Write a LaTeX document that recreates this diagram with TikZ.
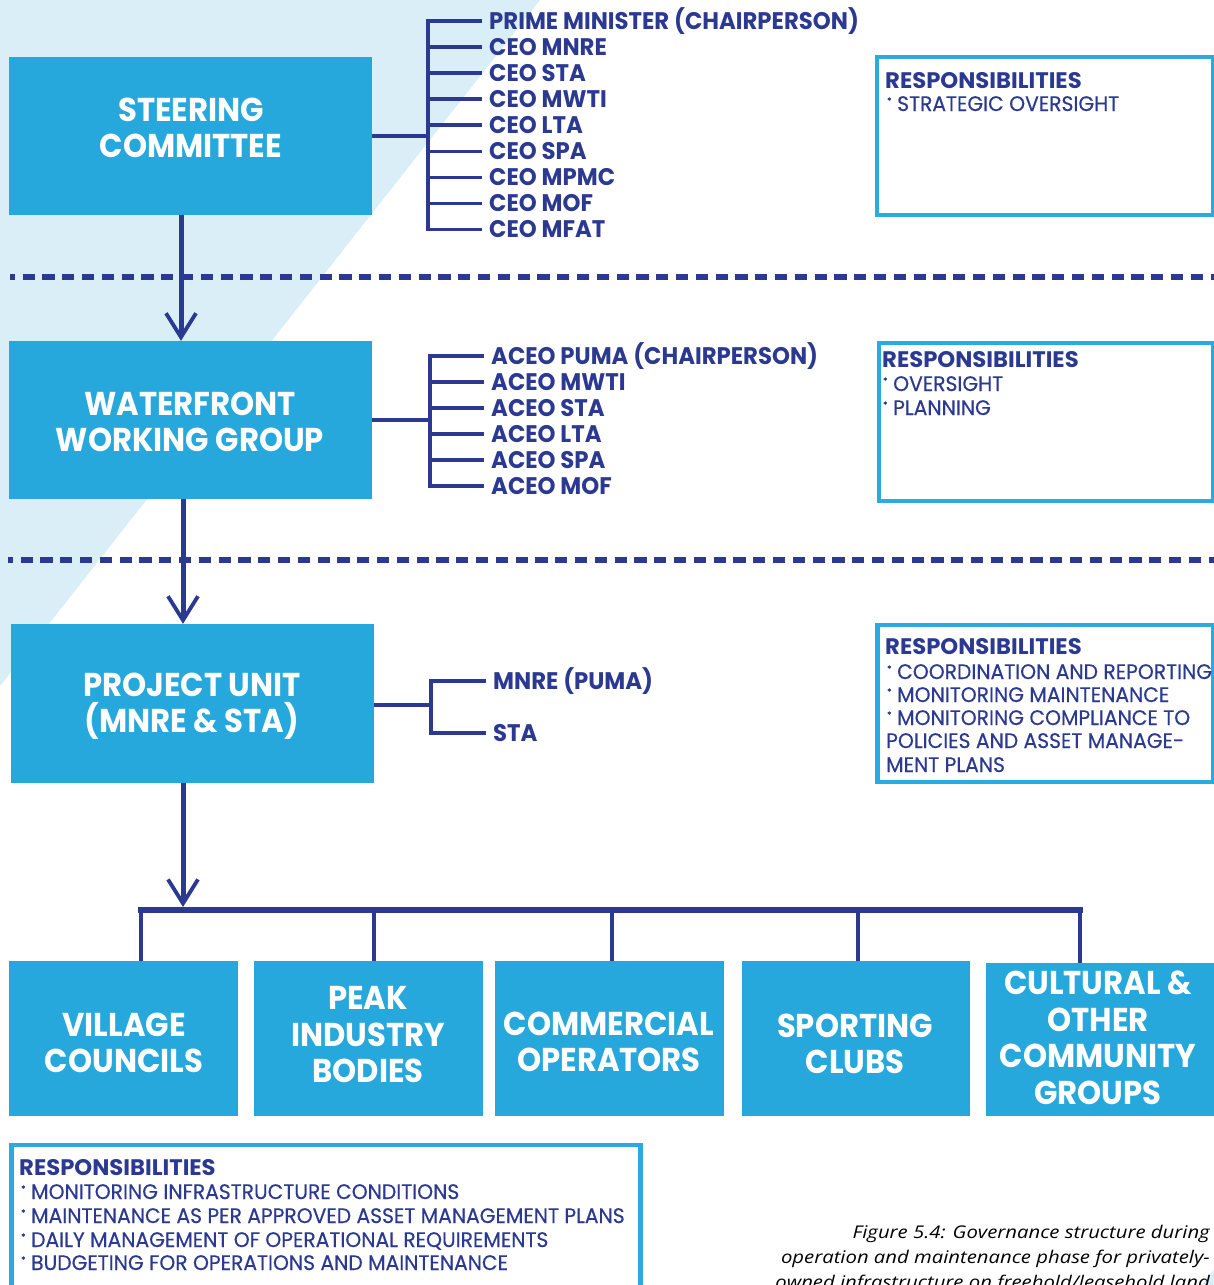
\documentclass[tikz,border=0pt]{standalone}
\usepackage{fontspec}
\usetikzlibrary{arrows.meta}
\newfontfamily\popB[FakeStretch=0.93]{Poppins}
\newfontfamily\popM[FakeStretch=0.95]{Poppins}
\newfontfamily\popH[FakeStretch=1.01]{Poppins}
\newfontfamily\popR[FakeStretch=0.965,FakeBold=0.4]{Poppins}
\newfontfamily\capfont[FakeStretch=1.16]{Open Sans}
\definecolor{cyanbox}{HTML}{27A8DC}
\definecolor{navy}{HTML}{2B3990}
\definecolor{lightbg}{HTML}{DAEEF7}
\definecolor{respborder}{HTML}{29AAE1}
\newcommand\bul{\makebox[10pt][l]{\raisebox{7pt}{\fontsize{9}{9}\selectfont *}}}
\begin{document}
\begin{tikzpicture}[x=1pt,y=-1pt,
  cbox/.style={fill=cyanbox, draw=none, inner sep=0pt},
  boxtext/.style={text=white, align=center, inner sep=0pt, font=\popB\bfseries\fontsize{33}{36.5}\selectfont},
  member/.style={text=navy, anchor=west, inner xsep=7pt, inner ysep=0pt, text height=17pt, text depth=0pt, font=\popM\bfseries\fontsize{24}{24}\selectfont},
  br/.style={draw=navy, line width=3.5pt},
  arr/.style={draw=navy, line width=5pt, -{Straight Barb[length=24pt,width=30pt,line width=3.8pt]}},
  dashline/.style={draw=navy, line width=6pt, dash pattern=on 12.3pt off 7.5pt, dash phase=7.3pt},
  respbox/.style={draw=respborder, line width=4.5pt},
  resphead/.style={anchor=base west, inner sep=0pt, text=navy, font=\popH\bfseries\fontsize{22.5}{22.5}\selectfont},
  respline/.style={anchor=base west, inner sep=0pt, text=navy, font=\popR\fontsize{21}{21}\selectfont},
  captext/.style={anchor=base east, inner sep=0pt, text=black, font=\capfont\itshape\fontsize{17.5}{17.5}\selectfont}
]
\useasboundingbox (0,0) rectangle (1214,1285);
\clip (0,0) rectangle (1214,1285);
% background
\fill[lightbg] (0,0) -- (540,0) -- (0,686) -- cycle;
\fill[lightbg] (1214,1270) -- (1214,1285) -- (1202,1285) -- cycle;
% dashed separators
\draw[dashline] (10,277) -- (1214,277);
\draw[dashline] (8,560) -- (1214,560);

% main boxes
\node[cbox, minimum width=363pt, minimum height=158pt] (steer) at (190.5,136) {};
\node[cbox, minimum width=363pt, minimum height=158pt] (wf) at (190.5,420) {};
\node[cbox, minimum width=363pt, minimum height=159pt] (pu) at (192.5,703.5) {};
\node[boxtext] (steerT) at (191,128) {STEERING\\COMMITTEE};
\node[boxtext] (wfT) at (190,422) {WATERFRONT\\WORKING GROUP};
\node[boxtext] (puT) at (192,706) {PROJECT UNIT\\(MNRE \& STA)};

% bottom boxes
\node[cbox, minimum width=229pt, minimum height=155pt] (v1) at (123.5,1038.5) {};
\node[cbox, minimum width=229pt, minimum height=155pt] (v2) at (368.5,1038.5) {};
\node[cbox, minimum width=229pt, minimum height=155pt] (v3) at (609.5,1038.5) {};
\node[cbox, minimum width=228pt, minimum height=155pt] (v4) at (856,1038.5) {};
\node[cbox, minimum width=228pt, minimum height=153pt] (v5) at (1100,1039.5) {};
\node[boxtext] (v1T) at (124,1043) {VILLAGE\\COUNCILS};
\node[boxtext] (v2T) at (368,1035) {PEAK\\INDUSTRY\\BODIES};
\node[boxtext] (v3T) at (609,1042) {COMMERCIAL\\OPERATORS};
\node[boxtext] (v4T) at (855,1044) {SPORTING\\CLUBS};
\node[boxtext] (v5T) at (1098,1038) {CULTURAL \&\\OTHER\\COMMUNITY\\GROUPS};

% steering members
\coordinate (sj) at (428,136);
\foreach \t [count=\i from 0] in {PRIME MINISTER (CHAIRPERSON),CEO MNRE,CEO STA,CEO MWTI,CEO LTA,CEO SPA,CEO MPMC,CEO MOF,CEO MFAT}{
  \node[member] (sc\i) at (482,{21+26.06*\i}) {\t};
}
\draw[br] (sc0.west) -| (sj) |- (sc8.west);
\foreach \i in {1,...,7}{ \draw[br] (sj |- sc\i.west) -- (sc\i.west); }
\draw[br] (steer.east) -- (sj);

% waterfront members
\coordinate (wj) at (430,420);
\foreach \t [count=\i from 0] in {ACEO PUMA (CHAIRPERSON),ACEO MWTI,ACEO STA,ACEO LTA,ACEO SPA,ACEO MOF}{
  \node[member] (wm\i) at (484,{356+26*\i}) {\t};
}
\draw[br] (wm0.west) -| (wj) |- (wm5.west);
\foreach \i in {1,...,4}{ \draw[br] (wj |- wm\i.west) -- (wm\i.west); }
\draw[br] (wf.east) -- (wj);

% project unit members
\coordinate (pj) at (431,705);
\node[member] (pm0) at (486,681) {MNRE (PUMA)};
\node[member] (pm1) at (486,733) {STA};
\draw[br] (pm0.west) -| (pj) |- (pm1.west);
\draw[br] (pu.east |- pj) -- (pj);

% arrows
\draw[arr] ([xshift=-9.5pt]steer.south) -- ([xshift=-9.5pt]wf.north);
\draw[arr] ([xshift=-7.5pt]wf.south) -- ([xshift=-9.5pt]pu.north);
\coordinate (bustip) at (183,907);
\draw[arr] ([xshift=-9.5pt]pu.south) -- (bustip);

% bus
\coordinate (c1) at (141,910);
\coordinate (c2) at (374,910);
\coordinate (c3) at (612,910);
\coordinate (c4) at (858,910);
\coordinate (c5) at (1080,910);
\draw[draw=navy, line width=6pt, line cap=rect] (c1) -- (c5);
\foreach \i in {1,...,5}{ \draw[draw=navy, line width=4.5pt] (c\i) -- (c\i |- v\i.north); }

% responsibilities boxes
\draw[respbox] (877,57) rectangle (1213,215);
\node[resphead] (r1h) at (885,88) {RESPONSIBILITIES};
\node[respline] (r1a) at (887,111) {\bul STRATEGIC OVERSIGHT};

\draw[respbox] (879,343) rectangle (1213,501);
\node[resphead] (r2h) at (882,367) {RESPONSIBILITIES};
\node[respline] (r2a) at (883,391) {\bul OVERSIGHT};
\node[respline] (r2b) at (883,415) {\bul PLANNING};

\draw[respbox] (877.5,625) rectangle (1213,782);
\node[resphead] (r3h) at (885,654) {RESPONSIBILITIES};
\node[respline] (r3a) at (887,679) {\bul COORDINATION AND REPORTING};
\node[respline] (r3b) at (887,702) {\bul MONITORING MAINTENANCE};
\node[respline] (r3c) at (887,725) {\bul MONITORING COMPLIANCE TO};
\node[respline] (r3d) at (886,748) {POLICIES AND ASSET MANAGE-};
\node[respline] (r3e) at (886,772) {MENT PLANS};

\draw[respbox] (11.5,1145) rectangle (640.5,1300);
\node[resphead] (r4h) at (19,1175) {RESPONSIBILITIES};
\node[respline] (r4a) at (21,1199) {\bul MONITORING INFRASTRUCTURE CONDITIONS};
\node[respline] (r4b) at (21,1223) {\bul MAINTENANCE AS PER APPROVED ASSET MANAGEMENT PLANS};
\node[respline] (r4c) at (21,1247) {\bul DAILY MANAGEMENT OF OPERATIONAL REQUIREMENTS};
\node[respline] (r4d) at (21,1270) {\bul BUDGETING FOR OPERATIONS AND MAINTENANCE};

% caption
\node[captext] (cap1) at (1210,1238) {Figure 5.4: Governance structure during};
\node[captext] (cap2) at (1210,1263) {operation and maintenance phase for privately-};
\node[captext] (cap3) at (1210,1288) {owned infrastructure on freehold/leasehold land};
\end{tikzpicture}
\end{document}
